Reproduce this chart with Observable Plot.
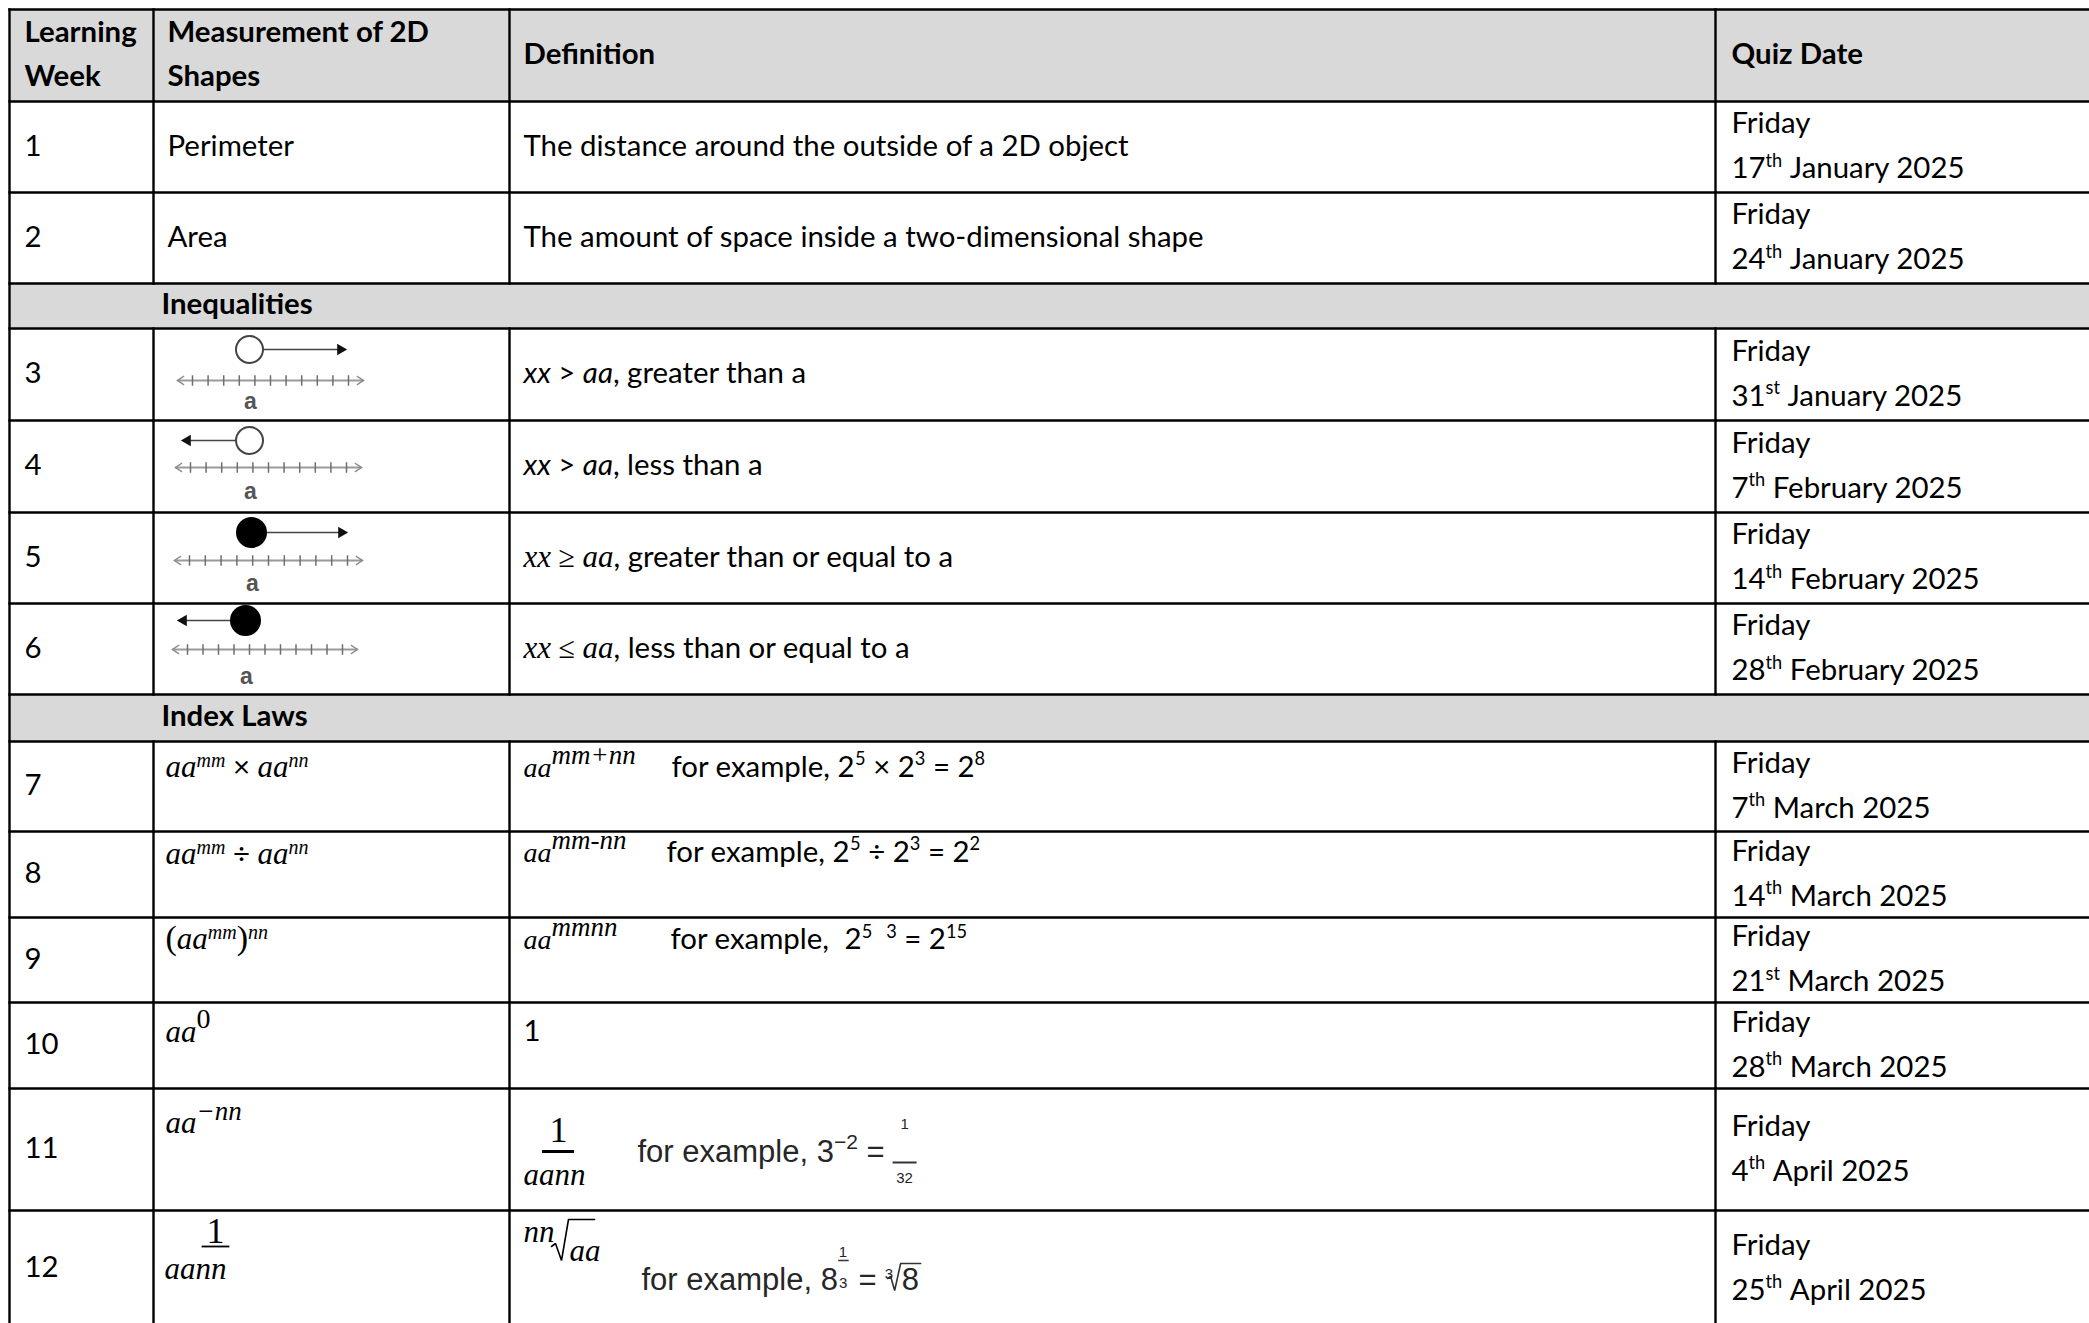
<!DOCTYPE html>
<html>
<head>
<meta charset="utf-8">
<script src="https://cdn.jsdelivr.net/npm/d3@7"></script>
<script src="https://cdn.jsdelivr.net/npm/@observablehq/plot@0.6"></script>
<style>
html, body { margin: 0; padding: 0; background: #fff; overflow: hidden; }
#chart svg { display: block; }
</style>
</head>
<body>
<div id="chart"></div>
<script>
// ================= DATA =================
const headerLabels = [["Learning", "Week"], ["Measurement of 2D", "Shapes"], ["Definition"], ["Quiz Date"]];
const sectionTitles = ["Inequalities", "Index Laws"];
const learningWeeks = ["1", "2", "3", "4", "5", "6", "7", "8", "9", "10", "11", "12"];
const shapeTopics = ["Perimeter", "Area"];
const shapeDefinitions = [
  "The distance around the outside of a 2D object",
  "The amount of space inside a two-dimensional shape"
];
const quizWeekday = "Friday";
const quizDayNumbers = ["17", "24", "31", "7", "14", "28", "7", "14", "21", "28", "4", "25"];
const quizDaySuffixes = ["th", "th", "st", "th", "th", "th", "th", "th", "st", "th", "th", "th"];
const quizMonthYears = [
  "January 2025", "January 2025", "January 2025", "February 2025", "February 2025", "February 2025",
  "March 2025", "March 2025", "March 2025", "March 2025", "April 2025", "April 2025"
];
const inequalityDirections = ["right", "left", "right", "left"];
const inequalityClosed = [false, false, true, true];
const inequalityMarker = "a";
const inequalityDefinitions = [
  [["xx", "i"], [" > ", "t"], ["aa", "i"], [", greater than a", "t"]],
  [["xx", "i"], [" > ", "t"], ["aa", "i"], [", less than a", "t"]],
  [["xx", "m"], [" ≥ ", "mu"], ["aa", "m"], [", greater than or equal to a", "t"]],
  [["xx", "m"], [" ≤ ", "mu"], ["aa", "m"], [", less than or equal to a", "t"]]
];
const indexRules = [
  [["aa", "m"], ["mm", "ms"], [" × ", "t"], ["aa", "m"], ["nn", "ms"]],
  [["aa", "m"], ["mm", "ms"], [" ÷ ", "t"], ["aa", "m"], ["nn", "ms"]],
  [["(", "mp"], ["aa", "m"], ["mm", "ms"], [")", "mp"], ["nn", "ms"]],
  [["aa", "m"], ["0", "mU"]],
  [["aa", "m"], ["−nn", "mL"]]
];
const indexRule12 = { num: "1", den: [["aa", "m"], ["nn", "m"]] };
const indexResults = [
  [["aa", "m2"], ["mm+nn", "mL"]],
  [["aa", "m2"], ["mm-nn", "mL"]],
  [["aa", "m2"], ["mmnn", "mL"]],
  [["1", "t"]]
];
const indexResult11 = { num: "1", den: [["aa", "m"], ["nn", "m"]] };
const indexResult12 = { index: [["nn", "m"]], radicand: [["aa", "m"]] };
const indexExamples = [
  [["for example, 2", "t"], ["5", "ts"], [" × 2", "t"], ["3", "ts"], [" = 2", "t"], ["8", "ts"]],
  [["for example, 2", "t"], ["5", "ts"], [" ÷ 2", "t"], ["3", "ts"], [" = 2", "t"], ["2", "ts"]],
  [["for example,", "t"], ["  2", "t"], ["5", "ts"], ["   3", "ts"], [" = 2", "t"], ["15", "ts"]]
];
const example11 = { lead: [["for example, 3", "n"], ["−2", "ns"], [" =", "n"]], num: "1", den: "32" };
const example12 = { lead: [["for example, 8", "n"]], expNum: "1", expDen: "3", eq: "=", rootIndex: "3", radicand: "8" };

// ================= LAYOUT =================
const W = 2089, H = 1323;
const colEdges = [9, 153, 509, 1715, 2100];
const rowEdges = [9, 101, 192, 283, 328, 420, 512, 603, 694, 741, 831, 917, 1002, 1088, 1210, 1326];
const bandRows = [3, 8];
const weekRows = [1, 2, 4, 5, 6, 7, 9, 10, 11, 12, 13, 14];
const textX = [24, 167, 523, 1731];
const rowMid = i => (rowEdges[i] + rowEdges[i + 1]) / 2;
const rowTop = i => rowEdges[i];

const FAM = {
  body: "Lato, 'Open Sans', 'DejaVu Sans', sans-serif",
  math: "'Liberation Serif', 'DejaVu Serif', serif",
  narrow: "'Liberation Sans Narrow', 'Liberation Sans', Arial, sans-serif",
  label: "'Liberation Sans', Arial, sans-serif"
};
const cv = document.createElement("canvas").getContext("2d");
function fontOf(K) { return `${K.style} ${K.weight} ${K.size}px ${FAM[K.fam]}`; }
function measure(text, K) { cv.font = fontOf(K); return cv.measureText(text).width; }
const probe = { fam: "body", style: "normal", weight: 400, size: 28 };
const B = Math.max(24, Math.min(32, 28 * 606 / measure(shapeDefinitions[0], probe)));

function kind(fam, size, o = {}) {
  return { fam, size, style: o.style || "normal", weight: o.weight || 400, rise: o.rise || 0, color: o.color || "#000" };
}
const KINDS = {
  t: kind("body", B),
  b: kind("body", B, { weight: 700 }),
  i: kind("body", B, { style: "italic" }),
  ts: kind("body", 0.62 * B, { rise: 0.38 * B }),
  m: kind("math", 31, { style: "italic" }),
  mu: kind("math", 30),
  mp: kind("math", 34),
  ms: kind("math", 20, { style: "italic", rise: 10 }),
  mL: kind("math", 27, { style: "italic", rise: 13 }),
  mU: kind("math", 28, { rise: 14 }),
  m2: kind("math", 28, { style: "italic" }),
  m1: kind("math", 36),
  n: kind("narrow", 31, { color: "#262626" }),
  ns: kind("narrow", 21, { rise: 13, color: "#262626" }),
  nt: kind("narrow", 15, { color: "#262626" }),
  lbl: kind("label", 23, { weight: 700, color: "#555" })
};

const items = [];
function put(text, k, x, baseline, anchor = "start") {
  const K = KINDS[k];
  items.push({ text, x, y: baseline - K.rise, size: K.size, anchor, K,
    key: [K.fam, K.style, K.weight, K.color, anchor].join("|") });
}
function runs(list, x, baseline) {
  for (const [text, k] of list) {
    const K = KINDS[k];
    const lead = text.match(/^\s*/)[0];
    const body = text.trim();
    if (body) put(body, k, x + (lead ? measure(lead, K) : 0), baseline);
    x += measure(text, K);
  }
  return x;
}
const lines = [];
function seg(x1, y1, x2, y2, stroke, w) { lines.push({ x1, y1, x2, y2, stroke, w, key: stroke + "|" + w }); }
const polylines = [];

// ---- grid ----
const fills = [0, ...bandRows].map(i => ({ x1: colEdges[0], x2: colEdges[4], y1: rowEdges[i], y2: rowEdges[i + 1] }));
for (let i = 0; i < rowEdges.length - 1; i++) seg(colEdges[0], rowEdges[i], colEdges[4], rowEdges[i], "#000", 2.4);
seg(colEdges[0], rowEdges[0], colEdges[0], rowEdges[rowEdges.length - 1], "#000", 2.4);
for (let i = 0; i < rowEdges.length - 1; i++) {
  if (bandRows.includes(i)) continue;
  for (const c of [1, 2, 3]) seg(colEdges[c], rowEdges[i], colEdges[c], rowEdges[i + 1], "#000", 2.4);
}

// ---- header ----
headerLabels.forEach((lab, c) => {
  if (lab.length === 2) {
    put(lab[0], "b", textX[c], rowMid(0) - 14);
    put(lab[1], "b", textX[c], rowMid(0) + 30);
  } else put(lab[0], "b", textX[c], rowMid(0) + 8.5);
});
// ---- section bands ----
sectionTitles.forEach((s, j) => put(s, "b", 161, rowMid(bandRows[j]) + 8));

// ---- week numbers + dates ----
learningWeeks.forEach((w, j) => {
  const r = weekRows[j];
  put(w, "t", textX[0], rowMid(r) + 8.5);
  put(quizWeekday, "t", textX[3], rowMid(r) - 14);
  runs([[quizDayNumbers[j], "t"], [quizDaySuffixes[j], "ts"], [" " + quizMonthYears[j], "t"]], textX[3], rowMid(r) + 31);
});

// ---- shapes ----
shapeTopics.forEach((s, j) => {
  put(s, "t", textX[1], rowMid(weekRows[j]) + 8.5);
  put(shapeDefinitions[j], "t", textX[2], rowMid(weekRows[j]) + 8.5);
});

// ---- inequalities ----
const ineqGeom = [
  { cx: 249, cy: 21, tip: 345, ly: 52, lx0: 177, lx1: 363, ay: 80 },
  { cx: 249, cy: 20, tip: 182, ly: 47, lx0: 175, lx1: 361, ay: 78 },
  { cx: 251, cy: 20, tip: 346, ly: 48, lx0: 174, lx1: 362, ay: 78 },
  { cx: 245, cy: 17, tip: 178, ly: 46, lx0: 172, lx1: 357, ay: 80 }
];
const circles = [], heads = [];
inequalityDirections.forEach((dir, j) => {
  const r = weekRows[2 + j], t = rowTop(r), g = ineqGeom[j];
  const y = t + g.ly;
  seg(g.lx0 + 2, y, g.lx1 - 2, y, "#9a9a9a", 1.8);
  seg(g.lx0 + 6, y - 4, g.lx0, y, "#8a8a8a", 1.4); seg(g.lx0, y, g.lx0 + 6, y + 4, "#8a8a8a", 1.4);
  seg(g.lx1 - 6, y - 4, g.lx1, y, "#8a8a8a", 1.4); seg(g.lx1, y, g.lx1 - 6, y + 4, "#8a8a8a", 1.4);
  const step = (g.lx1 - g.lx0 - 30) / 10;
  for (let k = 0; k <= 10; k++) { const tx = g.lx0 + 15 + k * step; seg(tx, y - 4.5, tx, y + 4.5, "#6e6e6e", 1.5); }
  put(inequalityMarker, "lbl", g.cx + 1, t + g.ay, "middle");
  const closed = inequalityClosed[j];
  const rad = closed ? 14.5 : 13.5;
  const sgn = dir === "right" ? 1 : -1;
  seg(g.cx + sgn * rad, t + g.cy, g.tip - sgn * 8, t + g.cy, "#444", 1.6);
  heads.push({ x: g.tip - sgn * 5, y: t + g.cy, rot: sgn > 0 ? 90 : -90 });
  circles.push({ x: g.cx, y: t + g.cy, r: rad, closed });
  runs(inequalityDefinitions[j], textX[2], rowMid(r) + 8.5);
});

// ---- index laws ----
const ruleBase = [-10, -11, -11, -4, -17];
const resultBase = [-10, -13, -11, -5];
const exampleX = [671, 666, 670];
indexRules.forEach((lst, j) => runs(lst, textX[1] - 2, rowMid(weekRows[6 + j]) + ruleBase[j]));
indexResults.forEach((lst, j) => runs(lst, textX[2], rowMid(weekRows[6 + j]) + resultBase[j]));
indexExamples.forEach((lst, j) => runs(lst, exampleX[j], rowMid(weekRows[6 + j]) + resultBase[j]));

{
  const t = rowTop(weekRows[11]);
  put(indexRule12.num, "m1", 215, t + 32, "middle");
  seg(202, t + 36, 228, t + 36, "#000", 1.8);
  runs(indexRule12.den, textX[1] - 3, t + 68);
}
{
  const t = rowTop(weekRows[10]);
  put(indexResult11.num, "m1", 558, t + 53, "middle");
  seg(543, t + 63, 572, t + 63, "#000", 3);
  runs(indexResult11.den, textX[2], t + 96);
  const ex = runs(example11.lead, 637, t + 73);
  const bx = ex + 20;
  put(example11.num, "nt", bx, t + 40, "middle");
  seg(bx - 11, t + 74, bx + 11, t + 74, "#333", 2);
  put(example11.den, "nt", bx, t + 94, "middle");
}
{
  const t = rowTop(weekRows[11]);
  const ix = runs(indexResult12.index, textX[2], t + 31);
  polylines.push({ pts: [[ix - 3, t + 36], [ix + 1, t + 33], [ix + 7, t + 50], [ix + 14, t + 9], [ix + 40, t + 9]], w: 1.6, stroke: "#000" });
  runs(indexResult12.radicand, ix + 15, t + 50);
  const ex = runs(example12.lead, 641, t + 79);
  put(example12.expNum, "nt", ex + 5, t + 46, "middle");
  seg(ex + 1, t + 50, ex + 10, t + 50, "#333", 1.5);
  put(example12.expDen, "nt", ex + 1, t + 77);
  const eqEnd = runs([[" " + example12.eq, "n"]], ex + 12, t + 79);
  const rx = eqEnd + 8;
  put(example12.rootIndex, "nt", rx, t + 68);
  polylines.push({ pts: [[rx + 3, t + 68], [rx + 6, t + 66], [rx + 10, t + 80], [rx + 16, t + 53], [rx + 36, t + 53]], w: 1.6, stroke: "#333" });
  runs([[example12.radicand, "n"]], rx + 17, t + 79);
}

// ================= PLOT =================
const marks = [];
marks.push(Plot.rect(fills, { x1: "x1", x2: "x2", y1: "y1", y2: "y2", fill: "#d9d9d9" }));
for (const [key, arr] of d3.group(lines, d => d.key)) {
  marks.push(Plot.link(arr, { x1: "x1", y1: "y1", x2: "x2", y2: "y2", stroke: arr[0].stroke, strokeWidth: arr[0].w, strokeLinecap: "square" }));
}
for (const p of polylines) {
  marks.push(Plot.line(p.pts, { x: d => d[0], y: d => d[1], stroke: p.stroke, strokeWidth: p.w, strokeLinejoin: "miter" }));
}
for (const c of circles) {
  marks.push(Plot.dot([c], { x: "x", y: "y", r: c.r, fill: c.closed ? "#000" : "#fff", stroke: c.closed ? "#000" : "#444", strokeWidth: 2 }));
}
marks.push(Plot.dot(heads, { x: "x", y: "y", r: 5.5, symbol: "triangle2", rotate: "rot", fill: "#111" }));
for (const [key, arr] of d3.group(items, d => d.key)) {
  const K = arr[0].K;
  marks.push(Plot.text(arr, {
    x: "x", y: "y", text: "text", fontSize: d => d.size,
    textAnchor: arr[0].anchor, lineAnchor: "bottom",
    fill: K.color, fontFamily: FAM[K.fam], fontStyle: K.style, fontWeight: K.weight
  }));
}

const chart = Plot.plot({
  width: W, height: H, margin: 0,
  x: { domain: [0, W], range: [0, W], axis: null },
  y: { domain: [0, H], range: [0, H], axis: null },
  style: { background: "#fff", overflow: "hidden" },
  marks
});
document.getElementById("chart").appendChild(chart);
</script>
</body>
</html>
